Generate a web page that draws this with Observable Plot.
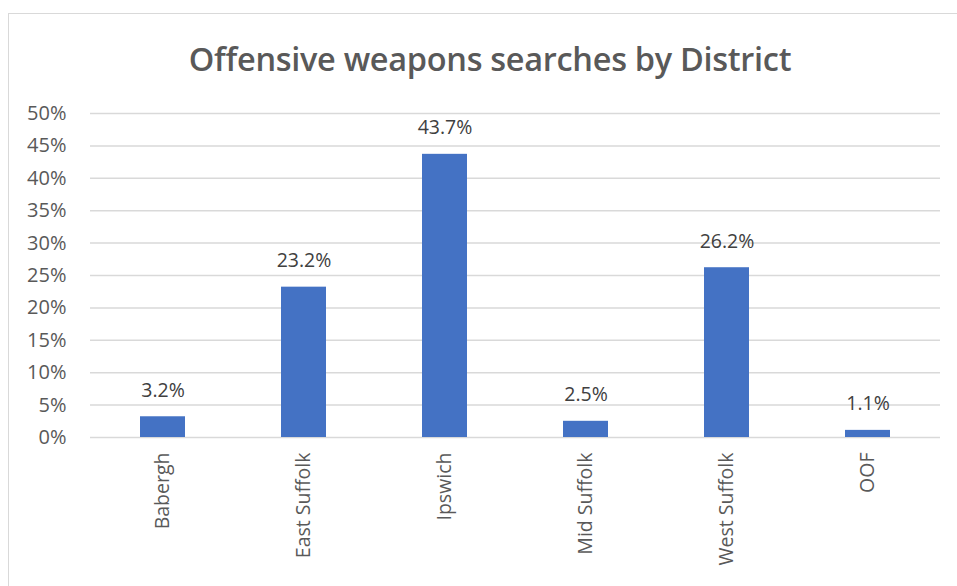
<!DOCTYPE html>
<html><head><meta charset="utf-8">
<script src="https://cdn.jsdelivr.net/npm/d3@7"></script>
<script src="https://cdn.jsdelivr.net/npm/@observablehq/plot@0.6"></script>
<style>
html,body{margin:0;padding:0;background:#fff;overflow:hidden}
#wrap{position:relative;width:957px;height:586px;overflow:hidden}
#frame{position:absolute;left:8px;top:13px;width:980px;height:620px;border:1.5px solid #d9d9d9;box-sizing:border-box}
#title{position:absolute;left:0;width:980px;top:38px;line-height:42px;text-align:center;font-family:"Open Sans",sans-serif;font-weight:600;font-size:32.5px;color:#595959;letter-spacing:-0.3px}
#chart{position:absolute;left:0;top:0}
</style></head>
<body><div id="wrap"><div id="frame"></div><div id="title">Offensive weapons searches by District</div><div id="chart"></div></div>
<script>
const districts = ["Babergh","East Suffolk","Ipswich","Mid Suffolk","West Suffolk","OOF"];
const shares = [3.2, 23.2, 43.7, 2.5, 26.2, 1.1];
const yTicks = [0,5,10,15,20,25,30,35,40,45,50];

const data = districts.map((d,i)=>({district:d, value:shares[i]}));
const FF = '"Open Sans", sans-serif';

const chart = Plot.plot({
  width: 957, height: 586,
  marginLeft: 90, marginRight: 17, marginTop: 113, marginBottom: 149,
  style: {fontFamily: FF, fontSize: "19px", color: "#595959", background: "transparent"},
  x: {domain: districts, paddingInner: 0.68, paddingOuter: 0.34, label: null},
  y: {domain: [0,50], label: null},
  marks: [
    Plot.ruleY(yTicks, {stroke: "#d9d9d9", strokeWidth: 1.5}),
    Plot.barY(data, {x: "district", y: "value", fill: "#4472c4"}),
    Plot.text(data, {x: "district", y: "value", text: d => d.value.toFixed(1) + "%", lineAnchor: "bottom", dy: -20, fill: "#404040", fontSize: 19.5, fontFamily: FF}),
    Plot.axisY({ticks: yTicks, tickSize: 0, tickPadding: 24, tickFormat: d => d + "%", fontSize: 20, fontFamily: FF, fill: "#595959", label: null}),
    Plot.axisX({tickSize: 0, tickPadding: 15, tickRotate: -90, fontSize: 19.5, fontFamily: FF, fill: "#595959", label: null})
  ]
});
document.getElementById("chart").appendChild(chart);
</script></body></html>
